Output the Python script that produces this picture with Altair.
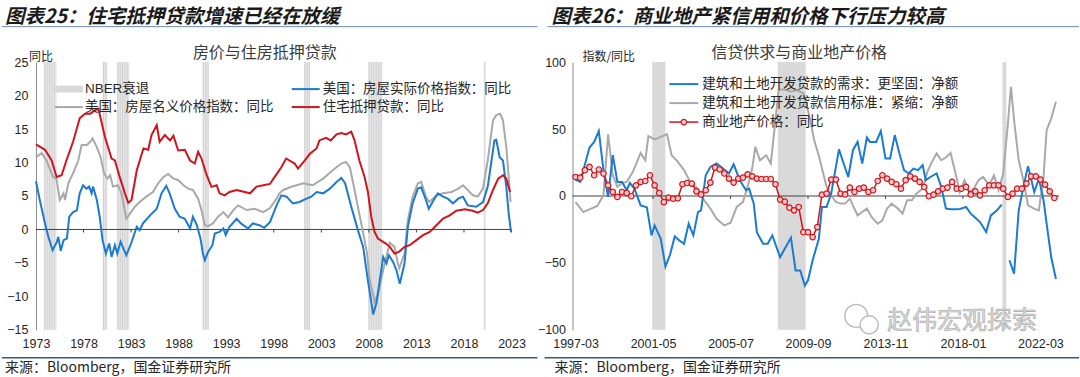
import altair as alt
import pandas as pd

# ================= LEFT PANEL DATA (decimal years, YoY %) =================
left_x_ticks = [1973, 1978, 1983, 1988, 1993, 1998, 2003, 2008, 2013, 2018, 2023]
left_y_ticks = [-15, -10, -5, 0, 5, 10, 15, 20, 25]
nber_start = [1973.83, 1980.0, 1981.5, 1990.5, 2001.17, 2007.92, 2020.08]
nber_end = [1975.17, 1980.5, 1982.83, 1991.17, 2001.83, 2009.42, 2020.25]

gray_t = [1973.0, 1973.6, 1974.1, 1974.8, 1975.15, 1975.5, 1975.9, 1976.05, 1976.4, 1976.9,
          1977.45, 1977.8, 1978.35, 1978.7, 1978.95, 1979.4, 1979.8, 1980.15, 1980.5, 1980.8,
          1981.1, 1981.6, 1982.0, 1982.5, 1982.9, 1983.4, 1983.9, 1984.6, 1985.3, 1985.85,
          1986.4, 1986.9, 1987.45, 1987.95, 1988.5, 1989.0, 1989.5, 1990.05, 1990.4, 1990.75,
          1991.1, 1991.6, 1992.15, 1992.7, 1993.2, 1993.75, 1994.25, 1995.15, 1996.0, 1996.9,
          1997.6, 1998.3, 1998.6, 1999.0, 1999.7, 2001.1, 2002.1, 2003.2, 2004.2, 2005.1,
          2005.6, 2006.0, 2006.5, 2006.9, 2007.4, 2007.8, 2008.1, 2008.6, 2009.0, 2009.5,
          2010.2, 2010.7, 2011.05, 2011.2, 2011.75, 2012.1, 2012.6, 2013.15, 2013.5, 2014.0,
          2014.35, 2015.1, 2015.8, 2016.7, 2017.4, 2017.9, 2018.4, 2018.95, 2019.45, 2020.0,
          2020.5, 2021.05, 2021.4, 2021.8, 2022.1, 2022.45, 2022.7, 2022.9]
gray_v = [10.8, 11.4, 10.3, 7.85, 7.6, 4.4, 5.4, 4.4, 6.9, 8.4,
          10.3, 12.6, 12.6, 13.1, 13.6, 12.3, 10.8, 8.4, 7.6, 8.1,
          6.4, 6.6, 5.4, 1.6, 2.4, 3.4, 4.1, 4.9, 5.6, 6.9,
          7.85, 8.3, 7.6, 7.4, 6.6, 6.1, 5.9, 4.6, 2.9, 0.64,
          0.5, 0.9, 1.9, 2.6, 1.8, 2.9, 3.6, 2.9, 3.1, 2.6,
          3.2, 4.6, 5.4, 5.9, 6.3, 6.9, 6.6, 7.6, 8.85, 9.85,
          10.1, 9.3, 5.9, 3.0, -0.5, -3.5, -7.6, -10.8, -9.5, -6.1,
          -2.0, -2.6, -5.1, -5.8, -3.6, 1.4, 4.9, 6.9, 7.1, 4.9,
          4.1, 5.1, 5.4, 5.6, 6.1, 6.6, 5.9, 5.1, 4.9, 6.1,
          10.3, 16.3, 17.1, 17.3, 16.3, 12.3, 7.85, 4.1]

blue_t = [1973.0, 1973.4, 1973.95, 1974.3, 1974.75, 1975.2, 1975.35, 1975.6, 1975.9, 1976.25,
          1976.5, 1976.9, 1977.3, 1977.6, 1977.95, 1978.3, 1978.6, 1978.85, 1979.0, 1979.4,
          1979.7, 1980.0, 1980.35, 1980.7, 1980.95, 1981.3, 1981.55, 1981.9, 1982.2, 1982.5,
          1983.0, 1983.6, 1983.9, 1984.25, 1985.0, 1985.7, 1986.2, 1986.7, 1987.05, 1987.6,
          1988.1, 1988.65, 1989.2, 1989.5, 1989.9, 1990.3, 1990.55, 1990.75, 1991.1, 1991.55,
          1991.8, 1992.3, 1992.7, 1992.95, 1993.35, 1994.1, 1994.55, 1995.3, 1995.8, 1996.5,
          1997.0, 1997.6, 1998.3, 1998.8, 1999.35, 2000.0, 2000.7, 2001.45, 2001.95, 2002.5,
          2003.2, 2003.9, 2004.6, 2005.1, 2005.5, 2006.15, 2006.85, 2007.4, 2007.9, 2008.45,
          2008.8, 2009.15, 2009.5, 2009.85, 2010.1, 2010.55, 2010.9, 2011.25, 2011.75, 2012.1,
          2012.6, 2013.15, 2013.5, 2014.0, 2014.3, 2014.7, 2015.25, 2015.8, 2016.3, 2016.85,
          2017.4, 2017.9, 2018.4, 2019.3, 2020.0, 2020.5, 2020.9, 2021.2, 2021.4, 2021.75,
          2022.1, 2022.45, 2022.7, 2022.95]
blue_v = [7.2, 4.4, 0.9, -1.1, -3.1, -1.85, -1.1, -3.2, -1.6, -1.35,
          1.9, 2.6, 2.85, 5.4, 6.6, 6.1, 6.4, 5.4, 6.4, 4.4,
          1.9, -1.6, -3.6, -2.1, -4.1, -2.35, -3.6, -1.85, -2.85, -3.85,
          -2.1, 0.4, -0.1, 0.9, 2.1, 3.1, 5.4, 6.5, 5.4, 3.1,
          1.9, 1.6, 0.15, 1.9, 0.7, -1.35, -3.6, -4.6, -3.35, -2.35,
          -0.6, -0.36, 0.15, -0.85, 0.4, 1.6, 0.9, 0.15, 0.9, 0.64,
          0.25, 1.1, 3.6, 5.1, 4.9, 3.9, 4.1, 4.6, 4.9, 5.6,
          5.4, 6.1, 7.1, 7.7, 6.9, 3.4, -0.1, -2.6, -7.6, -12.7,
          -11.0, -7.6, -4.1, -5.1, -3.85, -4.85, -6.1, -8.1, -5.1, 0.4,
          3.9, 6.1, 6.3, 4.4, 3.1, 4.1, 5.4, 4.9, 4.6, 3.9,
          4.6, 4.9, 3.6, 3.4, 4.1, 6.4, 10.3, 13.3, 13.4, 10.8,
          10.3, 6.4, 2.4, -0.4]

red_t = [1973.0, 1973.95, 1974.65, 1975.17, 1975.7, 1976.2, 1976.9, 1977.6, 1978.15, 1978.7,
         1979.2, 1979.55, 1979.8, 1980.25, 1980.95, 1981.3, 1981.8, 1982.35, 1982.7, 1983.05,
         1983.6, 1984.3, 1984.8, 1985.15, 1985.7, 1986.0, 1986.55, 1987.1, 1987.45, 1987.95,
         1988.65, 1989.2, 1989.7, 1990.05, 1990.4, 1990.95, 1991.45, 1992.0, 1992.3, 1992.85,
         1993.35, 1994.1, 1995.5, 1996.2, 1996.9, 1997.6, 1998.1, 1998.8, 1999.3, 2000.2,
         2000.55, 2001.25, 2001.8, 2002.5, 2002.8, 2003.5, 2004.0, 2004.6, 2005.1, 2005.6,
         2006.15, 2006.5, 2007.0, 2007.55, 2007.9, 2008.25, 2008.6, 2008.95, 2009.5, 2009.8,
         2010.2, 2010.7, 2011.2, 2011.75, 2012.3, 2013.0, 2013.7, 2014.4, 2015.1, 2015.8,
         2016.5, 2017.2, 2018.1, 2018.9, 2019.45, 2020.0, 2020.5, 2021.05, 2021.6, 2022.1,
         2022.45, 2022.85]
red_v = [12.7, 11.9, 10.3, 7.85, 8.1, 10.3, 13.1, 16.6, 17.3, 17.3,
         17.8, 18.05, 16.6, 13.8, 10.6, 10.3, 7.85, 5.4, 3.97, 4.4,
         8.85, 12.1, 11.9, 14.1, 15.6, 13.1, 14.1, 13.3, 14.0, 11.8,
         11.9, 10.3, 9.85, 11.6, 10.6, 8.1, 6.36, 6.6, 5.4, 5.1,
         5.6, 5.9, 5.4, 6.4, 6.6, 6.8, 7.85, 9.3, 10.6, 9.85,
         9.1, 10.3, 11.3, 12.1, 13.3, 13.7, 13.3, 14.2, 14.4, 14.2,
         14.6, 13.3, 10.3, 7.85, 5.6, 1.9, -0.36, -1.35, -1.85, -2.1,
         -2.6, -3.6, -3.3, -2.6, -2.35, -1.6, -0.85, -0.36, 0.64, 1.64,
         2.1, 2.8, 3.0, 2.8, 2.5, 2.9, 3.9, 5.9, 7.6, 8.1,
         7.6, 5.6]

# ================= RIGHT PANEL DATA (months since 1997-03) =================
right_x_ticks = [0, 50, 100, 150, 200, 250, 300]
right_x_labels = ["1997-03", "2001-05", "2005-07", "2009-09", "2013-11", "2018-01", "2022-03"]
right_y_ticks = [-100, -50, 0, 50, 100]
rec_r_start = [49.5, 130.5, 275.5]
rec_r_end = [58.0, 148.5, 278.0]

# commercial real-estate price YoY, quarterly from 1997-03
cre_price = [14.2, 13.7, 19.3, 21.7, 15.5, 19.8, 16.8, 8.0, 3.0, -0.7,
             3.0, 2.25, -0.2, 8.0, 10.5, 11.2, 15.5, 8.0, 2.25, -4.5,
             -1.2, -2.0, -1.7, 8.8, 9.7, 9.3, 3.5, 1.2, 4.3, 10.0,
             21.2, 19.8, 16.8, 13.0, 10.0, 13.0, 13.7, 16.2, 14.7, 13.0,
             12.7, 12.7, 12.7, 8.8, -2.7, -4.2, -8.7, -10.7, -8.2, -27.0,
             -27.0, -30.7, -23.2, 1.0, 1.8, 12.3, 12.3, 1.8, 1.2, 6.3,
             3.0, 5.5, 6.3, 3.0, 4.3, 11.2, 15.5, 13.0, 10.5, 8.8,
             5.5, 11.8, 14.7, 13.0, 10.5, 6.8, -0.2, 1.0, 3.5, 5.5,
             6.3, 10.5, 5.5, 5.5, 6.8, 1.2, 3.5, 0.5, 4.3, 8.0,
             8.0, 8.0, 5.5, -0.7, 1.8, 5.5, 5.5, 9.3, 14.7, 14.7,
             12.3, 8.5, 3.5, -1.5]

demand_m = [0, 3, 9, 12, 15, 18, 21, 24, 27, 30,
            33, 35, 38, 42, 46, 49, 51, 55, 58, 61,
            64, 67, 70, 73, 76, 79, 81, 84, 87, 91,
            94, 99, 102, 106, 110, 112, 115, 117, 121, 124,
            127, 132, 135, 139, 142, 145, 148, 150, 153, 157,
            159, 162, 165, 170, 173, 176, 179, 182, 185, 188,
            190, 194, 197, 200, 203, 206, 209, 212, 215, 218,
            221, 224, 226, 229, 233, 236, 239, 242, 245, 248,
            252, 255, 258, 261, 265, 268, 272, 275, 280, 283,
            286, 289, 292, 296, 299, 302, 304, 307, 310]
demand_v = [12, 10.5, 36.2, 40.4, 48.5, 19.3, -0.7, 30.5, 10.5, 10.5,
            4.3, 9.7, 5.5, -7, -8.5, -29.4, -22, -32, -52.7, -43.7,
            -30.2, -33.2, -35.7, -20.7, -29.4, -12, -10.7, 15.5, 21.7, 24.3,
            21.7, 16.8, 23.7, 11.8, 4.3, 5.5, -5.7, -27, -35.7, -35.7,
            -29.4, -45.7, -39.4, -31.2, -55.6, -55.6, -66.9, -63, -48, -32,
            -8.2, -8.2, 2, 34.8, 24.3, 14.2, 34.2, 40.4, 24.3, 43.7,
            40.4, 40.4, 48.5, 28, 28, 45.5, 31.8, 19.3, 16.8, 20.5,
            19.3, 23, 11.8, 14.2, 16.8, 6.8, -9.4, -9.9, -9.9, -9.7,
            -8.2, -13.2, -16.2, -19.5, -27, -14.5, -10.7, -6.4, -48, -58,
            -10.7, 6.8, 22.2, 3.0, 13, -3.2, -20.7, -46, -62]
demand_gap_after = 275

standards_m = [0, 5, 14, 18, 21, 24, 27, 30, 33, 37,
               42, 45, 47, 51, 55, 59, 62, 66, 70, 74,
               79, 83, 87, 91, 96, 100, 104, 108, 111, 114,
               116, 119, 123, 126, 129, 131, 134, 139, 143, 147,
               151, 154, 157, 160, 162, 165, 168, 171, 174, 177,
               182, 185, 188, 191, 195, 198, 201, 204, 208, 211,
               214, 217, 220, 224, 227, 230, 233, 236, 239, 242,
               245, 248, 251, 254, 257, 260, 263, 267, 270, 273,
               276, 279, 281, 283, 286, 289, 292, 296, 299, 302,
               304, 307, 310]
standards_v = [-4.5, -12, -7.5, 0.5, 46, 15.5, 6.8, 9.7, 10.5, 18,
               32.2, 26.7, 44.7, 42.2, 44.2, 46.2, 30.5, 25.5, 19.3, 10.5,
               5.5, -3.2, -9.4, -17, -22, -20, -8.2, -4.5, 6.8, 20.5,
               36.7, 26.7, 30.5, 24.3, 56.7, 79, 79.7, 78, 79, 76.7,
               59.2, 41.7, 30, 16, 7, 0.5, -4.5, -5.7, -5.7, -2,
               -14.5, -12, -9.4, -15.7, -20.7, -18.2, -9.4, -5.7, -9.4, -13.2,
               -3.2, -3.2, 1.8, 5.5, 18, 25.5, 31.8, 26.7, 28.7, 32.2,
               18, 3.0, 11.8, 3.0, 5.5, 11.8, 14.2, 8.0, 15.5, 4.3,
               16.8, 54, 81.6, 56.7, 26.7, 11.8, -7, -9.4, -10.7, 14.2,
               49.2, 58, 70.4]

# ================= styling =================
CJK = "Noto Sans CJK SC"
NUM = "Liberation Sans"
BLUE = "#1a7bd0"
RED = "#d0141c"
GRAY = "#a9a9a9"
BAND = "#e6e6e6"
TXT = "#262626"

LW, LH = 476, 268      # left plot area
RW, RH = 487, 268      # right plot area

one = pd.DataFrame({"k": [0]})


def txt(x, y, s, size=13.5, color=TXT, align="left", weight="normal", style="normal", font=CJK,
        baseline="middle", **kw):
    return alt.Chart(one).mark_text(text=s, align=align, baseline=baseline, fontSize=size, color=color,
                                    font=font, fontWeight=weight, fontStyle=style, **kw
                                    ).encode(x=alt.value(x), y=alt.value(y))


def hline(x1, x2, y, color, w):
    return alt.Chart(one).mark_rule(color=color, strokeWidth=w).encode(
        x=alt.value(x1), x2=alt.value(x2), y=alt.value(y))


def anchor(x, y1, y2):
    return alt.Chart(one).mark_rule(color="white", strokeOpacity=0).encode(
        x=alt.value(x), y=alt.value(y1), y2=alt.value(y2))


def x_axis(values, **kw):
    return alt.Axis(values=values, grid=False, ticks=False, domain=False, labelFont=NUM, labelFontSize=12.5,
                    labelColor=TXT, labelPadding=8, labelFlush=False, labelOverlap=False, title=None, **kw)


def y_axis(values, pad):
    return alt.Axis(values=values, grid=False, ticks=False, domain=True, domainColor="#8c8c8c", domainWidth=1,
                    labelFont=NUM, labelFontSize=12.5, labelColor=TXT, labelPadding=pad, title=None)


# ---------------- LEFT PANEL ----------------
lx = alt.Scale(domain=[1973, 2023], nice=False, zero=False)
ly = alt.Scale(domain=[-15, 25], nice=False, zero=False)
AXL = x_axis(left_x_ticks, format="d")
AYL = y_axis(left_y_ticks, 8)

nber_df = pd.DataFrame({"s": nber_start, "e": nber_end})
bands_l = alt.Chart(nber_df).mark_rect(color=BAND).encode(
    x=alt.X("s:Q", scale=lx, axis=AXL), x2="e:Q", y=alt.value(0), y2=alt.value(LH))

# quarterly stripes inside the recession bands (monthly-column texture of the original)
stripe_t = []
for s, e in zip(nber_start, nber_end):
    q = s + 0.1
    while q < e:
        stripe_t.append(round(q, 3))
        q += 0.25
stripes_l = alt.Chart(pd.DataFrame({"t": stripe_t})).mark_rule(color="#cfcfcf", strokeWidth=0.9).encode(
    x=alt.X("t:Q", scale=lx, axis=AXL), y=alt.value(0), y2=alt.value(LH))

zero_l = alt.Chart(one).mark_rule(color="#404040", strokeWidth=1).encode(
    y=alt.Y(datum=0, scale=ly, axis=AYL))

ticks_l = alt.Chart(pd.DataFrame({"t": left_x_ticks[1:]})).mark_rule(color="#404040", strokeWidth=1).encode(
    x=alt.X("t:Q", scale=lx, axis=AXL), y=alt.Y(datum=0, scale=ly, axis=AYL), y2=alt.Y2(datum=-0.45))


def left_line(t, v, color):
    return alt.Chart(pd.DataFrame({"t": t, "v": v})).mark_line(color=color, strokeWidth=2).encode(
        x=alt.X("t:Q", scale=lx, axis=AXL), y=alt.Y("v:Q", scale=ly, axis=AYL))


gray_l = left_line(gray_t, gray_v, GRAY)
blue_l = left_line(blue_t, blue_v, BLUE)
red_l = left_line(red_t, red_v, RED)

# left decorations (coordinates relative to left plot origin at page 36,62)
left_deco = [
    txt(-31, -39, "图表25：住宅抵押贷款增速已经在放缓", size=19.5, color="#1a1a1a", weight="bold",
        style="italic", baseline="alphabetic"),
    hline(-34, 502, -35.5, "#6a8bb3", 1),
    txt(229, -9, "房价与住房抵押贷款", size=16, color="#3c3c3c", align="center"),
    txt(-7, -5, "同比", size=12),
    # legend
    hline(19, 47, 27, "#d9d9d9", 7),
    txt(49, 27, "NBER衰退", font=NUM + ", " + CJK),
    hline(19, 47, 45, GRAY, 2),
    txt(49, 45, "美国：房屋名义价格指数：同比"),
    hline(256, 284, 27, BLUE, 2),
    txt(287, 27, "美国：房屋实际价格指数：同比"),
    hline(256, 284, 45, RED, 2),
    txt(287, 45, "住宅抵押贷款：同比"),
    hline(-34, 502, 296, "#2e5b8c", 1.5),
    txt(-31, 306, "来源：Bloomberg，国金证券研究所", size=14),
    anchor(-36, -62, 315),
]

left = alt.layer(bands_l, stripes_l, zero_l, ticks_l, gray_l, blue_l, red_l, *left_deco).properties(
    width=LW, height=LH)

# ---------------- RIGHT PANEL ----------------
rx = alt.Scale(domain=[-2, 312], nice=False, zero=False)
ry = alt.Scale(domain=[-100, 100], nice=False, zero=False)

label_expr = " : ".join(f"datum.value == {m} ? '{s}'" for m, s in zip(right_x_ticks, right_x_labels)) + " : ''"
AXR = x_axis(right_x_ticks, labelExpr=label_expr)
AYR = y_axis(right_y_ticks, 7)

rec_df = pd.DataFrame({"s": rec_r_start, "e": rec_r_end})
bands_r = alt.Chart(rec_df).mark_rect(color="#d9d9d9").encode(
    x=alt.X("s:Q", scale=rx, axis=AXR), x2="e:Q", y=alt.value(0), y2=alt.value(RH))

zero_r = alt.Chart(one).mark_rule(color="#404040", strokeWidth=1).encode(
    y=alt.Y(datum=0, scale=ry, axis=AYR))
ticks_r = alt.Chart(pd.DataFrame({"m": right_x_ticks[1:]})).mark_rule(color="#404040", strokeWidth=1).encode(
    x=alt.X("m:Q", scale=rx, axis=AXR), y=alt.Y(datum=0, scale=ry, axis=AYR), y2=alt.Y2(datum=-2.2))

std_df = pd.DataFrame({"m": standards_m, "v": standards_v})
gray_r = alt.Chart(std_df).mark_line(color=GRAY, strokeWidth=2).encode(
    x=alt.X("m:Q", scale=rx, axis=AXR), y=alt.Y("v:Q", scale=ry, axis=AYR))

dem_df = pd.DataFrame({"m": demand_m, "v": demand_v})
dem_df["seg"] = (dem_df["m"] > demand_gap_after).astype(int)
blue_r = alt.Chart(dem_df).mark_line(color=BLUE, strokeWidth=2).encode(
    x=alt.X("m:Q", scale=rx, axis=AXR), y=alt.Y("v:Q", scale=ry, axis=AYR), detail="seg:N")

cre_df = pd.DataFrame({"m": [3 * i for i in range(len(cre_price))], "v": cre_price})
red_r = alt.Chart(cre_df).mark_line(
    color=RED, strokeWidth=1.5,
    point=alt.OverlayMarkDef(shape="circle", filled=True, fill="#f6caca", stroke=RED, strokeWidth=1.2, size=30)
).encode(x=alt.X("m:Q", scale=rx, axis=AXR), y=alt.Y("v:Q", scale=ry, axis=AYR))

right_deco = [
    txt(-21, -39, "图表26：商业地产紧信用和价格下行压力较高", size=19.5, color="#1a1a1a", weight="bold",
        style="italic", baseline="alphabetic"),
    hline(-25, 507, -35.5, "#6a8bb3", 1),
    txt(227, -9, "信贷供求与商业地产价格", size=16, color="#3c3c3c", align="center"),
    txt(10, -5, "指数/同比", size=12),
    hline(97, 126, 22, BLUE, 2),
    txt(130, 22, "建筑和土地开发贷款的需求：更坚固：净额"),
    hline(97, 126, 41, GRAY, 2),
    txt(130, 41, "建筑和土地开发贷款信用标准：紧缩：净额"),
    hline(97, 126, 60, RED, 1.5),
    alt.Chart(one).mark_point(shape="circle", filled=True, fill="#f6caca", stroke=RED, strokeWidth=1.2,
                              size=30, opacity=1).encode(x=alt.value(111.5), y=alt.value(60)),
    txt(130, 60, "商业地产价格：同比"),
    # watermark
    alt.Chart(one).mark_point(shape="circle", filled=True, fill="white", stroke="#bdbdbd", strokeWidth=1.5,
                              size=520, opacity=1).encode(x=alt.value(284), y=alt.value(254)),
    alt.Chart(one).mark_point(shape="circle", filled=True, fill="white", stroke="#bdbdbd", strokeWidth=1.5,
                              size=330, opacity=1).encode(x=alt.value(297), y=alt.value(263)),
    txt(390, 259, "赵伟宏观探索", size=25, color="#dcdcdc", align="center", stroke="#a8a8a8", strokeWidth=0.6),
    hline(-28, 507, 296, "#2e5b8c", 1.5),
    txt(-18, 306, "来源：Bloomberg，国金证券研究所", size=14),
    anchor(506.5, -62, 315),
]

right = alt.layer(bands_r, zero_r, ticks_r, gray_r, blue_r, red_r, *right_deco).properties(width=RW, height=RH)

chart = alt.hconcat(left, right, spacing=61, bounds="flush").properties(
    padding=0, background="white").configure_view(stroke=None)

chart.save("out.html", embed_options={"renderer": "svg", "actions": False})
